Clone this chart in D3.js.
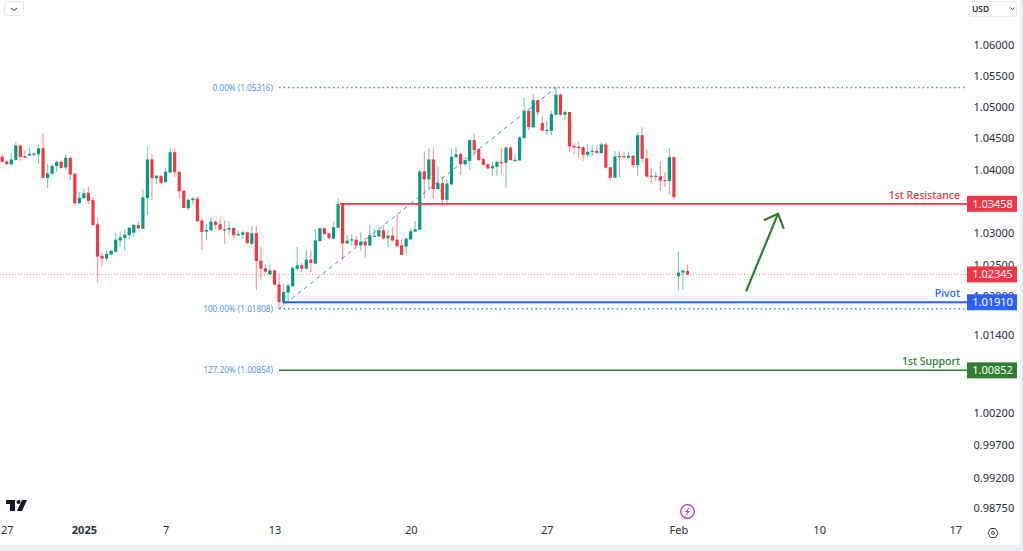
<html>
<script src="https://cdnjs.cloudflare.com/ajax/libs/d3/7.8.5/d3.min.js"></script>
<style>
body { margin: 0; background: #fff; overflow: hidden; }
text { font-family: "Noto Sans", "Open Sans", sans-serif; }
.axis text { font-size: 11px; fill: #2a2e39; }
.axis path, .axis line { display: none; }
.lvl { font-size: 10.5px; font-weight: 500; text-anchor: end; }
.fib { font-size: 8.2px; fill: #4f94f2; text-anchor: end; }
.box { font-size: 11px; fill: #fff; text-anchor: middle; }
</style>
<body>
<svg id="chart" width="1023" height="551"></svg>
<script>
// EURUSD 4h candles
var opens = [
1.04205,1.04131,1.04088,1.04157,1.04385,1.04216,1.04226,1.04237,1.04247,1.04343,
1.03866,1.03935,1.04057,1.04126,1.04035,1.04189,1.03935,1.03468,1.03548,1.03633,
1.03516,1.03134,1.02636,1.02594,1.02657,1.02700,1.02880,1.02917,1.02960,1.03002,
1.03119,1.03065,1.03548,1.04163,1.03866,1.03903,1.03802,1.03956,1.04279,1.03967,
1.03664,1.03389,1.03516,1.03542,1.03193,1.03018,1.03039,1.03177,1.03134,1.03055,
1.03050,1.03076,1.02960,1.02970,1.03007,1.02827,1.02991,1.02561,1.02440,1.02346,
1.02409,1.02189,1.01912,1.02059,1.02158,1.02435,1.02488,1.02435,1.02578,1.02514,
1.02869,1.03071,1.02991,1.02907,1.03081,1.03452,1.02832,1.02880,1.02891,1.02801,
1.02859,1.02801,1.02944,1.02944,1.03039,1.02912,1.02954,1.02891,1.02801,1.02785,
1.02896,1.03018,1.03050,1.03972,1.03845,1.04163,1.03691,1.03786,1.03521,1.03765,
1.04200,1.04247,1.04088,1.04141,1.04470,1.04327,1.04168,1.04088,1.04020,1.04046,
1.04120,1.04110,1.04354,1.04137,1.04147,1.04503,1.04942,1.04677,1.05112,1.04746,
1.04624,1.04624,1.04879,1.05202,1.04879,1.04921,1.04381,1.04365,1.04359,1.04238,
1.04280,1.04301,1.04264,1.04402,1.04036,1.03872,1.04216,1.04216,1.04190,1.04222,
1.04073,1.04550,1.04179,1.03904,1.03888,1.03893,1.03835,1.03819,1.04200,1.02315,
1.02373,1.02398];
var highs = [
1.04242,1.04141,1.04258,1.04438,1.04396,1.04311,1.04353,1.04279,1.04396,1.04587,
1.04088,1.04078,1.04141,1.04141,1.04247,1.04205,1.03951,1.03643,1.03701,1.03723,
1.03558,1.03235,1.02689,1.02721,1.02732,1.02997,1.03018,1.03060,1.03085,1.03134,
1.03177,1.03686,1.04364,1.04247,1.03913,1.03913,1.04035,1.04343,1.04343,1.03977,
1.03675,1.03542,1.03569,1.03580,1.03225,1.03145,1.03240,1.03187,1.03209,1.03198,
1.03187,1.03092,1.03039,1.03039,1.03018,1.03108,1.03108,1.02774,1.02493,1.02498,
1.02420,1.02331,1.02200,1.02200,1.02472,1.02774,1.02524,1.02732,1.02721,1.03050,
1.03076,1.03081,1.03002,1.03172,1.03542,1.03458,1.02960,1.02986,1.02944,1.03007,
1.02923,1.03145,1.03066,1.03066,1.03118,1.03039,1.03092,1.03293,1.02907,1.02917,
1.03066,1.03187,1.03993,1.04290,1.04337,1.04337,1.04046,1.03887,1.03845,1.04337,
1.04353,1.04269,1.04205,1.04481,1.04576,1.04337,1.04194,1.04099,1.04125,1.04141,
1.04353,1.04375,1.04370,1.04238,1.04545,1.05154,1.04980,1.05207,1.05123,1.04858,
1.04778,1.04942,1.05316,1.05229,1.04942,1.04927,1.04423,1.04444,1.04370,1.04412,
1.04397,1.04391,1.04444,1.04434,1.04041,1.04296,1.04296,1.04285,1.04285,1.04232,
1.04603,1.04677,1.04328,1.04026,1.03962,1.04132,1.03957,1.04344,1.04211,1.02705,
1.02420,1.02503];
var lows = [
1.04115,1.04072,1.04062,1.04141,1.04141,1.04184,1.04216,1.04216,1.04088,1.03855,
1.03707,1.03924,1.03967,1.04020,1.04004,1.03834,1.03431,1.03452,1.03532,1.03452,
1.03108,1.02221,1.02472,1.02556,1.02642,1.02689,1.02785,1.02721,1.02907,1.02933,
1.03065,1.03060,1.03283,1.03516,1.03770,1.03765,1.03797,1.03951,1.03876,1.03532,
1.03384,1.03357,1.03452,1.03172,1.02732,1.02880,1.03023,1.03060,1.03039,1.02827,
1.02960,1.02907,1.02944,1.02907,1.02827,1.02806,1.02106,1.02268,1.02357,1.02336,
1.02174,1.01808,1.01860,1.01912,1.02148,1.02409,1.02383,1.02420,1.02383,1.02503,
1.02864,1.02970,1.02907,1.02901,1.03071,1.02573,1.02827,1.02801,1.02790,1.02710,
1.02599,1.02796,1.02933,1.02933,1.02880,1.02774,1.02854,1.02774,1.02642,1.02642,
1.02880,1.03013,1.03044,1.03537,1.03686,1.03542,1.03686,1.03421,1.03431,1.03754,
1.04184,1.03919,1.04057,1.03993,1.04216,1.04141,1.04067,1.04004,1.03898,1.03898,
1.03940,1.03717,1.04142,1.04126,1.04142,1.04487,1.04635,1.04672,1.04874,1.04609,
1.04556,1.04550,1.04874,1.04858,1.04794,1.04285,1.04253,1.04195,1.04142,1.04211,
1.04222,1.04253,1.04253,1.04020,1.03829,1.03866,1.03882,1.04179,1.04179,1.04031,
1.03904,1.04105,1.03866,1.03776,1.03819,1.03660,1.03723,1.03607,1.03511,1.02095,
1.02111,1.02330];
var closes = [
1.04126,1.04088,1.04163,1.04385,1.04205,1.04194,1.04253,1.04258,1.04343,1.03871,
1.03940,1.04062,1.04126,1.04030,1.04189,1.03924,1.03468,1.03553,1.03627,1.03505,
1.03124,1.02626,1.02594,1.02668,1.02716,1.02891,1.02928,1.02970,1.03081,1.03124,
1.03071,1.03558,1.04163,1.03866,1.03903,1.03792,1.03967,1.04279,1.03961,1.03659,
1.03394,1.03521,1.03542,1.03182,1.03013,1.03044,1.03177,1.03124,1.03050,1.03050,
1.03076,1.02960,1.02981,1.03007,1.02838,1.02991,1.02556,1.02435,1.02388,1.02409,
1.02184,1.01912,1.02069,1.02174,1.02446,1.02488,1.02435,1.02578,1.02524,1.02880,
1.03071,1.02981,1.02917,1.03087,1.03452,1.02832,1.02875,1.02896,1.02801,1.02859,
1.02801,1.02960,1.02954,1.03039,1.02912,1.02954,1.02880,1.02790,1.02652,1.02907,
1.03023,1.03055,1.03972,1.03845,1.04163,1.03691,1.03786,1.03521,1.03781,1.04205,
1.04247,1.04088,1.04152,1.04470,1.04311,1.04152,1.04078,1.04020,1.04057,1.04125,
1.04115,1.04353,1.04153,1.04158,1.04513,1.04942,1.04683,1.05112,1.04916,1.04624,
1.04635,1.04889,1.05202,1.04879,1.04921,1.04370,1.04354,1.04349,1.04238,1.04285,
1.04301,1.04269,1.04402,1.04031,1.03872,1.04211,1.04206,1.04206,1.04222,1.04073,
1.04550,1.04174,1.03893,1.03893,1.03904,1.03824,1.03824,1.04200,1.03564,1.02373,
1.02404,1.02345];

var priceTicks = [1.06, 1.055, 1.05, 1.045, 1.04, 1.03, 1.025, 1.02, 1.014, 1.002, 0.997, 0.992, 0.9875];
var dateTicks = [1, 18, 36, 60, 90, 120, 149, 180, 210];
var dateLabels = ["27", "2025", "7", "13", "20", "27", "Feb", "10", "17"];

var resistance = 1.03458, pivot = 1.0191, support = 1.00852, lastPrice = 1.02345;
var fibNames = ["0.00% (1.05316)", "100.00% (1.01808)", "127.20% (1.00854)"];
var fibLevels = [1.05316, 1.01808, 1.00854];
var arrowBars = [163.9, 170.95, 167.8, 172.2];
var arrowPrices = [1.0208, 1.03302, 1.03196, 1.03066];

var up = "#089981", down = "#f23645", blue = "#2962ff", green = "#2e7d32", fibBlue = "#3d8bf0";

var svg = d3.select("#chart");
var x = d3.scaleLinear().domain([0, 150]).range([2.2, 683]);
var y = d3.scaleLog().domain([1.06, 0.9875]).range([45.3, 507.9]);
var right = 967;

// level lines go under the candles
function hline(v, from, color, w, dash, op) {
    svg.append("line")
       .attr("x1", from).attr("x2", right)
       .attr("y1", y(v)).attr("y2", y(v))
       .attr("stroke", color).attr("stroke-width", w)
       .attr("stroke-opacity", op || 1)
       .attr("stroke-dasharray", dash || null);
}

hline(lastPrice, 0, down, 1, "1 2", 0.6);
hline(fibLevels[0], x(61), fibBlue, 1.5, "1.5 3");
hline(fibLevels[1], x(61), fibBlue, 1.5, "1.5 3");

svg.append("line")
   .attr("x1", x(61)).attr("y1", y(fibLevels[1]))
   .attr("x2", x(122)).attr("y2", y(fibLevels[0]))
   .attr("stroke", fibBlue).attr("stroke-width", 1).attr("stroke-dasharray", "4 4");

var bars = d3.range(opens.length);
function col(i) { return closes[i] >= opens[i] ? up : down; }

svg.append("g").selectAll("line")
   .data(bars).enter().append("line")
   .attr("x1", function(i) { return x(i); })
   .attr("x2", function(i) { return x(i); })
   .attr("y1", function(i) { return y(highs[i]); })
   .attr("y2", function(i) { return y(lows[i]); })
   .attr("stroke", col).attr("stroke-opacity", 0.5).attr("stroke-width", 1.2);

svg.append("g").selectAll("rect")
   .data(bars).enter().append("rect")
   .attr("x", function(i) { return x(i) - 1.6; })
   .attr("width", 3.2)
   .attr("y", function(i) { return y(Math.max(opens[i], closes[i])); })
   .attr("height", function(i) { return Math.max(1.2, Math.abs(y(opens[i]) - y(closes[i]))); })
   .attr("fill", col);

hline(resistance, x(74.4), down, 1.8);
hline(pivot, x(61.8), blue, 1.8);
hline(support, x(61), green, 1.5);

// the hand drawn arrow
var pt = function(k) { return [x(arrowBars[k]), y(arrowPrices[k])]; };
svg.append("path")
   .attr("d", d3.line()([pt(0), pt(1)]) + d3.line()([pt(2), pt(1), pt(3)]))
   .attr("fill", "none").attr("stroke", green).attr("stroke-width", 2.2);

// fib texts
svg.selectAll(".fib").data(fibNames).enter().append("text")
   .attr("class", "fib")
   .attr("x", 273)
   .attr("y", function(d, i) { return y(fibLevels[i]) + 3; })
   .text(function(d) { return d; });

// axes
svg.append("g").attr("class", "axis")
   .attr("transform", "translate(973.5,0)")
   .call(d3.axisRight(y).tickValues(priceTicks).tickSize(0).tickPadding(0)
       .tickFormat(d3.format(".5f")));

svg.append("g").attr("class", "axis")
   .attr("transform", "translate(0,526)")
   .call(d3.axisBottom(x).tickValues(dateTicks).tickSize(0).tickPadding(0)
       .tickFormat(function(d, i) { return dateLabels[i]; }))
   .selectAll("text")
   .style("font-weight", function(d, i) { return dateLabels[i] == "2025" ? "700" : null; });

// price boxes on the axis
var boxValues = [resistance, lastPrice, pivot, support];
var boxColors = [down, down, blue, green];
svg.selectAll(".pbox").data(boxValues).enter().append("rect")
   .attr("x", 967).attr("width", 50)
   .attr("y", function(d) { return y(d) - 8; }).attr("height", 16)
   .attr("fill", function(d, i) { return boxColors[i]; });
svg.selectAll(".box").data(boxValues).enter().append("text")
   .attr("class", "box").attr("x", 992.5)
   .attr("y", function(d) { return y(d) + 4; })
   .text(function(d) { return d.toFixed(5); });

var lvlNames = ["1st Resistance", "Pivot", "1st Support"];
var lvlValues = [resistance, pivot, support];
var lvlColors = [down, blue, green];
svg.selectAll(".lvl").data(lvlNames).enter().append("text")
   .attr("class", "lvl").attr("x", 960)
   .attr("y", function(d, i) { return y(lvlValues[i]) - 5; })
   .attr("fill", function(d, i) { return lvlColors[i]; })
   .text(function(d) { return d; });

// buttons
svg.append("rect").attr("x", 4.5).attr("y", 1.5).attr("width", 19).attr("height", 14).attr("rx", 2)
   .attr("fill", "#fff").attr("stroke", "#e6e8ee");
svg.append("path").attr("d", "M11 8l3 2.5 3-2.5").attr("fill", "none").attr("stroke", "#2a2e39").attr("stroke-width", 1);
svg.append("rect").attr("x", 969.5).attr("y", 1.5).attr("width", 47).attr("height", 15).attr("rx", 2)
   .attr("fill", "#fff").attr("stroke", "#eceef2");
svg.append("text").attr("x", 972).attr("y", 12).style("font-size", "8.5px").style("font-weight", "600")
   .attr("fill", "#2a2e39").text("USD");
svg.append("path").attr("d", "M1010.5 7.5l2 2 2-2").attr("fill", "none").attr("stroke", "#555").attr("stroke-width", 1);

// TV logo
svg.append("path").attr("d", "M6 500h9v11h-5v-7H6z M22 500h5l-5 11h-5z").attr("fill", "#131722");
svg.append("circle").attr("cx", 18.5).attr("cy", 502).attr("r", 2).attr("fill", "#131722");

// flash icon
svg.append("circle").attr("cx", 687.5).attr("cy", 511.5).attr("r", 6.8).attr("fill", "#fff")
   .attr("stroke", "#b03cc9").attr("stroke-width", 1.3);
svg.append("path").attr("d", "M690 506.5l-5 5.5h2.4l-2.4 4.5 5-5.5h-2.4z").attr("fill", "#b03cc9");

// settings icon
svg.append("path").attr("d", "M988 533l2.5-4.5h5l2.5 4.5-2.5 4.5h-5z").attr("fill", "none").attr("stroke", "#444").attr("stroke-width", 1);
svg.append("circle").attr("cx", 993).attr("cy", 533).attr("r", 1.5).attr("fill", "none").attr("stroke", "#444");

// window edges
svg.append("rect").attr("x", 1020).attr("y", 0).attr("width", 3).attr("height", 551).attr("fill", "#eff0f3");
svg.append("rect").attr("x", 0).attr("y", 545).attr("width", 1023).attr("height", 6).attr("fill", "#eff0f3");
</script>
</body>
</html>
